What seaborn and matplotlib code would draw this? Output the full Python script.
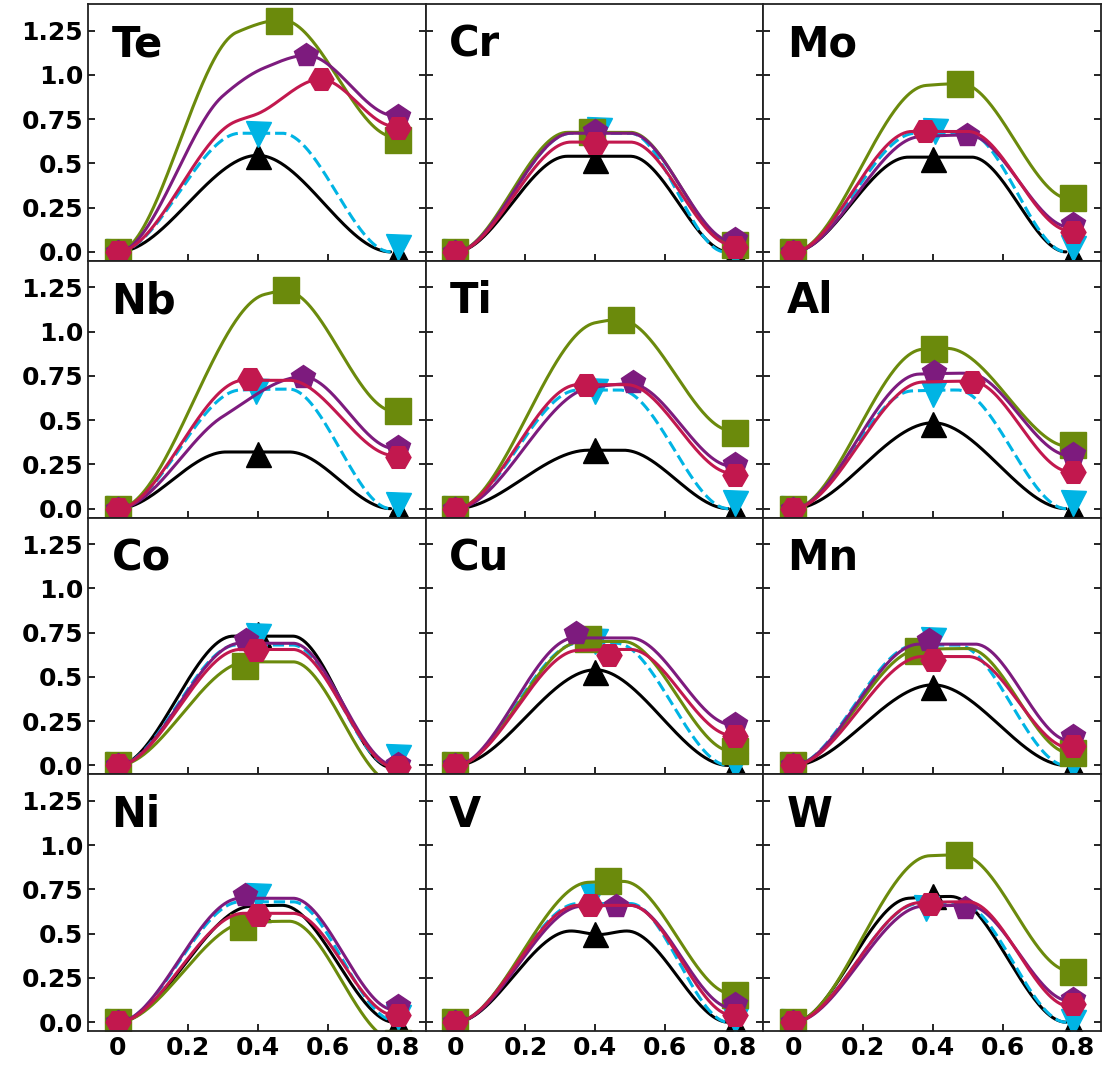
import numpy as np
import matplotlib
matplotlib.use("Agg")
import matplotlib.pyplot as plt
from matplotlib.ticker import FuncFormatter
import seaborn as sns

# panel order (row by row)
elements = ["Te", "Cr", "Mo", "Nb", "Ti", "Al", "Co", "Cu", "Mn", "Ni", "V", "W"]

# saddle point and final-state markers, one value per element
ts_x_black = [0.40, 0.40, 0.40, 0.40, 0.40, 0.40, 0.40, 0.40, 0.40, 0.40, 0.40, 0.40]
ts_y_black = [0.54, 0.52, 0.525, 0.31, 0.33, 0.48, 0.74, 0.53, 0.445, 0.64, 0.50, 0.71]
end_y_black = [-0.01, -0.01, -0.02, -0.01, -0.01, -0.01, -0.01, -0.01, -0.01, -0.01, -0.01, -0.02]

ts_x_cyan = [0.40, 0.41, 0.405, 0.394, 0.40, 0.40, 0.40, 0.40, 0.40, 0.40, 0.39, 0.38]
ts_y_cyan = [0.665, 0.69, 0.68, 0.665, 0.665, 0.65, 0.73, 0.70, 0.71, 0.71, 0.71, 0.645]
end_y_cyan = [0.025, 0.0, 0.02, 0.02, 0.03, 0.03, 0.05, 0.0, 0.0, 0.03, 0.01, 0.0]

ts_x_olive = [0.46, 0.39, 0.477, 0.48, 0.474, 0.403, 0.363, 0.38, 0.358, 0.358, 0.436, 0.475]
ts_y_olive = [1.305, 0.675, 0.947, 1.233, 1.068, 0.904, 0.56, 0.716, 0.648, 0.54, 0.795, 0.945]
end_y_olive = [0.63, 0.04, 0.305, 0.552, 0.43, 0.358, -0.13, 0.08, 0.07, -0.115, 0.155, 0.283]

ts_x_purple = [0.537, 0.40, 0.496, 0.53, 0.507, 0.403, 0.368, 0.346, 0.387, 0.363, 0.46, 0.49]
ts_y_purple = [1.11, 0.68, 0.66, 0.744, 0.716, 0.772, 0.71, 0.748, 0.71, 0.716, 0.655, 0.645]
end_y_purple = [0.77, 0.07, 0.16, 0.35, 0.25, 0.31, 0.01, 0.234, 0.164, 0.094, 0.10, 0.13]

ts_x_crimson = [0.58, 0.40, 0.377, 0.377, 0.372, 0.51, 0.396, 0.44, 0.40, 0.40, 0.384, 0.39]
ts_y_crimson = [0.975, 0.617, 0.683, 0.734, 0.697, 0.716, 0.653, 0.625, 0.597, 0.606, 0.664, 0.67]
end_y_crimson = [0.70, 0.03, 0.113, 0.29, 0.188, 0.207, -0.01, 0.164, 0.107, 0.04, 0.04, 0.10]

# energy profile knots
knots_x_black = [[0, 0.40, 0.78], [0, 0.32, 0.50, 0.78], [0, 0.33, 0.51, 0.78],
                 [0, 0.31, 0.49, 0.78], [0, 0.38, 0.48, 0.78], [0, 0.40, 0.78],
                 [0, 0.33, 0.50, 0.78], [0, 0.40, 0.78], [0, 0.40, 0.78],
                 [0, 0.38, 0.47, 0.79], [0, 0.33, 0.41, 0.49, 0.78], [0, 0.33, 0.45, 0.78]]
knots_y_black = [[0, 0.545, 0], [0, 0.54, 0.54, 0], [0, 0.535, 0.535, 0],
                 [0, 0.32, 0.32, 0], [0, 0.33, 0.33, 0], [0, 0.485, 0],
                 [0, 0.73, 0.73, -0.01], [0, 0.54, 0], [0, 0.455, 0],
                 [0, 0.655, 0.66, 0], [0, 0.515, 0.495, 0.515, 0], [0, 0.70, 0.71, 0]]

knots_x_cyan = [[0, 0.35, 0.47, 0.78], [0, 0.33, 0.50, 0.77], [0, 0.35, 0.50, 0.78],
                [0, 0.35, 0.49, 0.78], [0, 0.35, 0.47, 0.78], [0, 0.34, 0.47, 0.78],
                [0, 0.34, 0.50, 0.78], [0, 0.35, 0.46, 0.78], [0, 0.35, 0.47, 0.78],
                [0, 0.35, 0.50, 0.79], [0, 0.35, 0.50, 0.78], [0, 0.36, 0.48, 0.78]]
knots_y_cyan = [[0, 0.67, 0.67, 0], [0, 0.67, 0.67, 0], [0, 0.67, 0.67, 0],
                [0, 0.67, 0.675, 0], [0, 0.67, 0.67, 0], [0, 0.665, 0.67, 0],
                [0, 0.68, 0.68, 0], [0, 0.69, 0.69, 0], [0, 0.68, 0.68, 0],
                [0, 0.68, 0.68, 0.01], [0, 0.67, 0.67, 0], [0, 0.67, 0.67, 0]]

knots_x_olive = [[0, 0.34, 0.47, 0.79], [0, 0.32, 0.50, 0.79], [0, 0.38, 0.48, 0.79],
                 [0, 0.42, 0.48, 0.79], [0, 0.40, 0.47, 0.79], [0, 0.37, 0.44, 0.79],
                 [0, 0.37, 0.50, 0.79], [0, 0.36, 0.48, 0.79], [0, 0.36, 0.50, 0.79],
                 [0, 0.37, 0.49, 0.79], [0, 0.38, 0.48, 0.79], [0, 0.39, 0.48, 0.79]]
knots_y_olive = [[0, 1.24, 1.31, 0.65], [0, 0.675, 0.675, 0.05], [0, 0.94, 0.95, 0.30],
                 [0, 1.21, 1.23, 0.55], [0, 1.05, 1.068, 0.44], [0, 0.90, 0.905, 0.35],
                 [0, 0.585, 0.585, -0.10], [0, 0.70, 0.70, 0.08], [0, 0.655, 0.66, 0.07],
                 [0, 0.565, 0.57, -0.10], [0, 0.79, 0.795, 0.16], [0, 0.94, 0.945, 0.29]]

knots_x_purple = [[0, 0.30, 0.42, 0.54, 0.79], [0, 0.33, 0.50, 0.79], [0, 0.36, 0.50, 0.79],
                  [0, 0.30, 0.53, 0.79], [0, 0.38, 0.50, 0.79], [0, 0.36, 0.50, 0.79],
                  [0, 0.35, 0.50, 0.79], [0, 0.34, 0.50, 0.79], [0, 0.36, 0.52, 0.79],
                  [0, 0.35, 0.50, 0.79], [0, 0.36, 0.50, 0.79], [0, 0.37, 0.50, 0.79]]
knots_y_purple = [[0, 0.88, 1.04, 1.11, 0.77], [0, 0.67, 0.67, 0.06], [0, 0.65, 0.66, 0.14],
                  [0, 0.52, 0.745, 0.34], [0, 0.68, 0.705, 0.24], [0, 0.76, 0.765, 0.30],
                  [0, 0.69, 0.69, 0.0], [0, 0.72, 0.72, 0.23], [0, 0.685, 0.685, 0.14],
                  [0, 0.70, 0.70, 0.07], [0, 0.655, 0.66, 0.08], [0, 0.655, 0.66, 0.12]]

knots_x_crimson = [[0, 0.33, 0.40, 0.58, 0.79], [0, 0.33, 0.50, 0.79], [0, 0.34, 0.50, 0.79],
                   [0, 0.36, 0.49, 0.79], [0, 0.35, 0.49, 0.79], [0, 0.37, 0.51, 0.79],
                   [0, 0.35, 0.50, 0.79], [0, 0.35, 0.50, 0.79], [0, 0.37, 0.50, 0.79],
                   [0, 0.36, 0.50, 0.79], [0, 0.35, 0.50, 0.79], [0, 0.36, 0.50, 0.79]]
knots_y_crimson = [[0, 0.73, 0.78, 0.975, 0.71], [0, 0.62, 0.62, 0.04], [0, 0.68, 0.68, 0.12],
                   [0, 0.725, 0.725, 0.30], [0, 0.70, 0.70, 0.20], [0, 0.715, 0.72, 0.21],
                   [0, 0.655, 0.655, -0.01], [0, 0.65, 0.655, 0.17], [0, 0.615, 0.615, 0.10],
                   [0, 0.615, 0.615, 0.04], [0, 0.66, 0.66, 0.04], [0, 0.675, 0.68, 0.09]]

x_ticks = [0, 0.2, 0.4, 0.6, 0.8]
y_ticks = [0.0, 0.25, 0.5, 0.75, 1.0, 1.25]


def smooth(xk, yk, n=200):
    # monotone cubic (pchip-like) through the knots, flat at the ends
    xk = np.asarray(xk, float)
    yk = np.asarray(yk, float)
    h = np.diff(xk)
    d = np.diff(yk) / h
    m = np.zeros_like(xk)
    for i in range(1, len(xk) - 1):
        if d[i - 1] * d[i] > 0:
            w1 = 2 * h[i] + h[i - 1]
            w2 = h[i] + 2 * h[i - 1]
            m[i] = (w1 + w2) / (w1 / d[i - 1] + w2 / d[i])
    xs = np.linspace(xk[0], xk[-1], n)
    idx = np.clip(np.searchsorted(xk, xs) - 1, 0, len(h) - 1)
    t = (xs - xk[idx]) / h[idx]
    h00 = 2 * t**3 - 3 * t**2 + 1
    h10 = t**3 - 2 * t**2 + t
    h01 = -2 * t**3 + 3 * t**2
    h11 = t**3 - t**2
    ys = (h00 * yk[idx] + h10 * h[idx] * m[idx]
          + h01 * yk[idx + 1] + h11 * h[idx] * m[idx + 1])
    return xs, ys


series = [
    ("#000000", "^", "-", 18, knots_x_black, knots_y_black, ts_x_black, ts_y_black, end_y_black),
    ("#00b4e4", "v", "--", 18, knots_x_cyan, knots_y_cyan, ts_x_cyan, ts_y_cyan, end_y_cyan),
    ("#6b8a0c", "s", "-", 19, knots_x_olive, knots_y_olive, ts_x_olive, ts_y_olive, end_y_olive),
    ("#7d1b7e", "p", "-", 18, knots_x_purple, knots_y_purple, ts_x_purple, ts_y_purple, end_y_purple),
    ("#c2184e", "H", "-", 18, knots_x_crimson, knots_y_crimson, ts_x_crimson, ts_y_crimson, end_y_crimson),
]

sns.set_style("ticks")
plt.rcParams["font.family"] = ["DejaVu Sans"]
plt.rcParams["font.weight"] = "bold"
plt.rcParams["text.color"] = "black"
plt.rcParams["xtick.color"] = "black"
plt.rcParams["ytick.color"] = "black"

fig, axes = plt.subplots(4, 3, sharex=True, sharey=True, figsize=(11.05, 10.7), dpi=100,
                         gridspec_kw=dict(wspace=0, hspace=0))
fig.subplots_adjust(left=0.0796, right=0.9964, top=0.9963, bottom=0.0364)

for k, (ax, el) in enumerate(zip(axes.flat, elements)):
    for color, mk, ls, ms, kx, ky, tx, ty, ey in series:
        xs, ys = smooth(kx[k], ky[k])
        sns.lineplot(x=xs, y=ys, ax=ax, color=color, linewidth=2.2, linestyle=ls,
                     sort=False, estimator=None, legend=False)
        ax.plot([0, tx[k], 0.8], [0, ty[k], ey[k]], linestyle="none", marker=mk,
                markersize=ms, color=color, markeredgecolor=color)
    ax.text(0.07, 0.795, el, transform=ax.transAxes, fontsize=30, fontweight="bold",
            color="black", ha="left", va="baseline")
    ax.set_xlim(-0.085, 0.88)
    ax.set_ylim(-0.05, 1.40)
    ax.set_xticks(x_ticks)
    ax.set_yticks(y_ticks)
    ax.xaxis.set_major_formatter(FuncFormatter(lambda v, p: "0" if abs(v) < 1e-9 else f"{v:g}"))
    ax.yaxis.set_major_formatter(FuncFormatter(lambda v, p: str(round(v, 2))))
    ax.tick_params(direction="in", length=5, width=1.2, top=False, right=True,
                   labelsize=18, colors="black", labelcolor="black")
    for sp in ax.spines.values():
        sp.set_linewidth(1.3)
        sp.set_color("#222222")

fig.savefig("out.png", dpi=100)
